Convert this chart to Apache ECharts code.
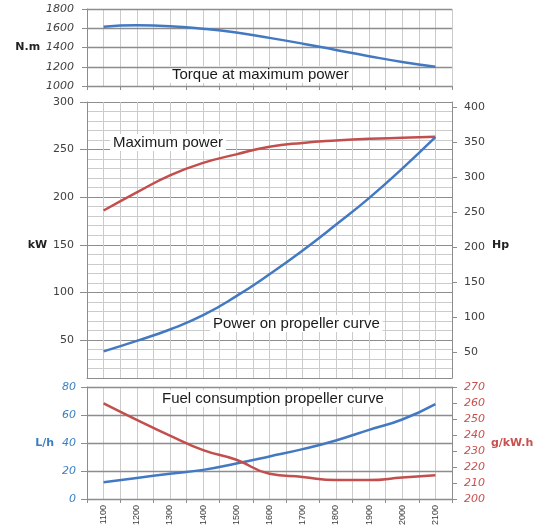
<!DOCTYPE html>
<html>
<head>
<meta charset="utf-8">
<script src="https://cdn.jsdelivr.net/npm/echarts@6/dist/echarts.min.js"></script>
<style>
html, body { margin: 0; padding: 0; background: #fff; }
#chart { width: 547px; height: 528px; }
</style>
</head>
<body>
<div id="chart"></div>
<script>
(function(){

// engine speed, rpm
var rpm = [1100, 1200, 1300, 1400, 1500, 1600, 1700, 1800, 1900, 2000, 2100];
var rpmTicks = [1050, 1150, 1250, 1350, 1450, 1550, 1650, 1750, 1850, 1950, 2050, 2150];

// top panel: N.m
var torque = [1615, 1630, 1622, 1595, 1555, 1500, 1440, 1375, 1310, 1250, 1200];

// middle panel: kW
var maxPower = [186, 205, 223, 236, 245, 253, 257, 259.5, 261.3, 262.4, 263.4];
var propPower = [38, 49, 61, 76, 96, 119, 144, 171, 199, 230, 263];
var kwLabels = [50, 100, 150, 200, 250, 300];
var hpLabels = [50, 100, 150, 200, 250, 300, 350, 400];
var HP_PER_KW = 1.36;

// bottom panel: L/h and g/kW.h
var fuelRate = [12, 15, 18, 20.8, 25.4, 30.4, 35.6, 41.8, 49.4, 56.8, 67.8];
var specFuel = [259.8, 249.5, 239.6, 230.5, 224.5, 215.8, 213.8, 211.8, 211.8, 213.4, 214.8];

var BLUE = '#4279c2', RED = '#c24f4d';
var LIGHT = '#cbcbcb', DARK = '#8d8d8d', TXT = '#404040';
var FONT = 'DejaVu Sans';

function plain(v) { return String(v); }

function pairs(xs, ys) {
	return xs.map(function(x, i) { return [x, ys[i]]; });
}

// axis with line, ticks and labels (no grid lines)
function rpmAxis(gridIndex, withTicks, withLabels) {
	return {
		type: 'value', gridIndex: gridIndex, min: 1050, max: 2150, z: 2,
		axisLine: { show: true, lineStyle: { color: DARK, width: 1 } },
		axisTick: { show: withTicks, customValues: rpmTicks, length: 4, lineStyle: { color: DARK } },
		axisLabel: withLabels ? {
			show: true, customValues: rpm, rotate: 90, margin: 6, formatter: plain,
			fontFamily: 'Liberation Sans', fontSize: 9, color: TXT
		} : { show: false },
		splitLine: { show: false }
	};
}

// invisible axis that only draws the vertical 50 rpm grid
function rpmGrid(gridIndex) {
	return {
		type: 'value', gridIndex: gridIndex, min: 1050, max: 2150, interval: 50, z: 0,
		axisLine: { show: false }, axisTick: { show: false }, axisLabel: { show: false },
		splitLine: { show: true, lineStyle: { color: LIGHT, width: 1 } }
	};
}

function lineSeries(name, xi, yi, data, color) {
	return {
		name: name, type: 'line', xAxisIndex: xi, yAxisIndex: yi,
		data: data, smooth: true, showSymbol: false, z: 5,
		lineStyle: { color: color, width: 2.5 }
	};
}

function note(text, left, top) {
	return {
		type: 'text', left: left, top: top, z: 1,
		style: {
			text: text, font: '15px "Liberation Sans"', fill: '#1a1a1a',
			backgroundColor: '#fff', padding: [1, 3]
		}
	};
}

var nameStyle = { fontFamily: FONT, fontWeight: 'bold', fontSize: 11, color: '#222' };

var chart = echarts.init(document.getElementById('chart'));

chart.setOption({
	animation: false,
	backgroundColor: '#fff',
	grid: [
		{ left: 87, right: 95, top: 9, height: 77 },
		{ left: 87, right: 95, top: 102, height: 276 },
		{ left: 87, right: 95, top: 387, height: 114 }
	],
	xAxis: [
		rpmAxis(0, true, false), rpmAxis(1, false, false), rpmAxis(2, true, true),
		rpmGrid(0), rpmGrid(1), rpmGrid(2)
	],
	yAxis: [
		{
			type: 'value', gridIndex: 0, min: 1000, max: 1800, interval: 200, z: 3,
			name: 'N.m', nameLocation: 'middle', nameRotate: 0, nameGap: 46, nameTextStyle: nameStyle,
			axisLine: { show: true, lineStyle: { color: DARK } },
			axisTick: { show: true, length: 5, lineStyle: { color: DARK } },
			axisLabel: { formatter: plain, fontFamily: FONT, fontStyle: 'italic', fontSize: 11, color: TXT, margin: 13 },
			splitLine: { lineStyle: { color: DARK, width: 1.3 } }
		},
		{
			type: 'value', gridIndex: 1, position: 'left', min: 10, max: 300, z: 2,
			name: 'kW', nameLocation: 'middle', nameRotate: 0, nameGap: 39,
			nameTextStyle: Object.assign({ verticalAlign: 'top' }, nameStyle),
			axisLine: { show: true, lineStyle: { color: DARK } },
			axisTick: { show: true, customValues: kwLabels, length: 7, lineStyle: { color: DARK } },
			axisLabel: { customValues: kwLabels, fontFamily: FONT, fontSize: 11, color: TXT, margin: 13 },
			splitLine: { show: false }
		},
		{
			type: 'value', gridIndex: 1, position: 'right', z: 2,
			min: 10 * HP_PER_KW, max: 300 * HP_PER_KW,
			name: 'Hp', nameLocation: 'middle', nameRotate: 0, nameGap: 40,
			nameTextStyle: Object.assign({ verticalAlign: 'top' }, nameStyle),
			axisLine: { show: true, lineStyle: { color: DARK } },
			axisTick: { show: true, customValues: hpLabels, length: 5, lineStyle: { color: DARK } },
			axisLabel: { customValues: hpLabels, fontFamily: FONT, fontSize: 11, color: TXT, margin: 12 },
			splitLine: { show: false }
		},
		{
			type: 'value', gridIndex: 2, min: 0, max: 80, interval: 20, z: 2,
			name: 'L/h', nameLocation: 'middle', nameRotate: 0, nameGap: 33,
			nameTextStyle: { fontFamily: FONT, fontWeight: 'bold', fontSize: 11, color: '#3a7fc4' },
			axisLine: { show: true, lineStyle: { color: DARK } },
			axisTick: { show: true, length: 6, lineStyle: { color: DARK } },
			axisLabel: { fontFamily: FONT, fontStyle: 'italic', fontSize: 11, color: '#3a7fc4', margin: 11 },
			splitLine: { lineStyle: { color: DARK, width: 1.3 } }
		},
		{
			type: 'value', gridIndex: 2, position: 'right', min: 200, max: 270, interval: 10, z: 2,
			name: 'g/kW.h', nameLocation: 'middle', nameRotate: 0, nameGap: 38,
			nameTextStyle: { fontFamily: FONT, fontWeight: 'bold', fontSize: 11, color: '#c9504e' },
			axisLine: { show: true, lineStyle: { color: DARK } },
			axisTick: { show: true, length: 5, lineStyle: { color: DARK } },
			axisLabel: { fontFamily: FONT, fontStyle: 'italic', fontSize: 11, color: '#c9504e', margin: 12 },
			splitLine: { show: false }
		},
		{
			// grid-only axis for the 10 kW lines, every fifth one darker
			type: 'value', gridIndex: 1, position: 'left', min: 10, max: 300, interval: 10, z: 0,
			axisLine: { show: false }, axisTick: { show: false }, axisLabel: { show: false },
			splitLine: { lineStyle: { color: [LIGHT, LIGHT, LIGHT, LIGHT, DARK], width: 1 } }
		}
	],
	series: [
		lineSeries('Torque', 0, 0, pairs(rpm, torque), BLUE),
		lineSeries('Maximum power', 1, 1, pairs(rpm, maxPower), RED),
		lineSeries('Power on propeller curve', 1, 1, pairs(rpm, propPower), BLUE),
		lineSeries('Fuel rate', 2, 3, pairs(rpm, fuelRate), BLUE),
		lineSeries('Specific fuel', 2, 4, pairs(rpm, specFuel), RED)
	],
	graphic: [
		note('Torque at maximum power', 169, 66),
		note('Maximum power', 110, 134),
		note('Power on propeller curve', 210, 315),
		note('Fuel consumption propeller curve', 159, 390)
	]
});

})();
</script>
</body>
</html>
